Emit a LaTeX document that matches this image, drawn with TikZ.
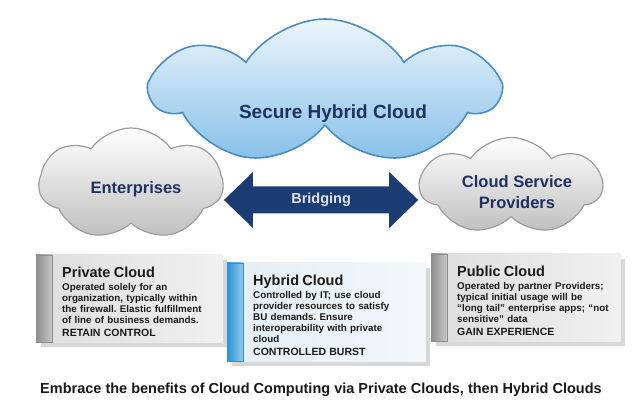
\documentclass[tikz,border=0pt]{standalone}
\usepackage{fontspec}
\setmainfont{Liberation Sans}
\frenchspacing
\usetikzlibrary{shapes.symbols,arrows.meta,backgrounds,shadows}

\definecolor{skyfill}{HTML}{86C0E9}
\definecolor{skyline}{HTML}{4A8CC8}
\definecolor{navy}{HTML}{1E3162}
\definecolor{bridgeblue}{HTML}{1C3C74}
\definecolor{greyline}{HTML}{9C9C9C}
\definecolor{panelgrey}{HTML}{DEDEDE}
\definecolor{panelblue}{HTML}{E4EEF6}
\definecolor{stripgrey}{HTML}{8E8E8E}
\definecolor{stripblue}{HTML}{2A94D6}
\definecolor{inkdark}{HTML}{1A1A1A}

\tikzset{
  bigcloud/.style={cloud, cloud puffs=7, cloud puff arc=115, cloud ignores aspect, draw=skyline, line width=1.6pt,
    top color=white!85!skyfill, bottom color=skyfill},
  sidecloud/.style={cloud, cloud puffs=7, cloud puff arc=110, cloud ignores aspect, draw=greyline, line width=1.2pt,
    top color=white, bottom color=black!25},
  cloudlabel/.style={font=\bfseries\fontsize{16.5}{21}\selectfont, text=navy, align=center},
  bridge/.style={draw=bridgeblue, line width=27pt,
    {Triangle[length=29pt,width=56pt,line width=0pt]}-{Triangle[length=29pt,width=56pt,line width=0pt]}},
  infotext/.style={anchor=north west, inner xsep=6pt, inner ysep=5pt, align=left, text=inkdark,
    font=\bfseries\fontsize{9.8}{11}\selectfont},
}
\newcommand\boxhead[1]{{\fontsize{14.5}{11}\selectfont\rule{0pt}{17pt}#1}\\[2pt]}
\newcommand\boxtag[1]{\\[2.5pt]{\fontsize{10.5}{11}\selectfont #1}}

\begin{document}
\begin{tikzpicture}[x=1pt,y=-1pt]
\useasboundingbox (0,0) rectangle (643,403);

% side clouds first, the big one sits over them
\node[sidecloud, minimum width=184pt, minimum height=112pt] (ent) at (131,184) {};
\node[sidecloud, minimum width=182pt, minimum height=97pt] (csp) at (511,186) {};
\node[bigcloud, minimum width=344pt, minimum height=146pt] (shc) at (325,92) {};

\node[cloudlabel, font=\bfseries\fontsize{19}{22}\selectfont] (shc-text) at (333,114) {Secure Hybrid Cloud};
\node[cloudlabel] (ent-text) at (136,189) {Enterprises};
\node[cloudlabel] (csp-text) at (517,192) {Cloud Service\\Providers};

\draw[bridge] ([yshift=-16pt]ent.east) -- ([yshift=-14pt]csp.west)
  node[midway, font=\bfseries\fontsize{14.5}{17}\selectfont, text=white!85!bridgeblue] (bridging) {Bridging};

% the three panels
\node[infotext, text width=154pt] (priv) at (56,255) {\boxhead{Private Cloud}Operated solely for an\\organization, typically within\\the firewall. Elastic fulfillment\\of line of business demands.\boxtag{RETAIN CONTROL}};
\node[infotext, text width=166pt] (hyb) at (247,263) {\boxhead{Hybrid Cloud}Controlled by IT; use cloud\\provider resources to satisfy\\BU demands. Ensure\\interoperability with private\\cloud\boxtag{CONTROLLED BURST}};
\node[infotext, text width=157pt] (pub) at (451,254) {\boxhead{Public Cloud}Operated by partner Providers;\\typical initial usage will be\\``long tail'' enterprise apps; ``not\\sensitive'' data\boxtag{GAIN EXPERIENCE}};

\begin{scope}[on background layer]
\fill[white] (0,0) rectangle (643,403);
\foreach \info/\panel/\strip in {priv/panelgrey/stripgrey, hyb/panelblue/stripblue, pub/panelgrey/stripgrey}{
  \path[left color=\panel, right color=\panel!45!white,
    drop shadow={shadow xshift=5pt, shadow yshift=-5pt, opacity=.3}]
    ([xshift=-20pt]\info.north west) rectangle (\info.south east);
  \path[left color=\strip, right color=\strip!50!white, draw=\strip]
    ([xshift=-20pt]\info.north west) rectangle ([xshift=-4pt]\info.south west);
}
\end{scope}

\node[font=\bfseries\fontsize{14.5}{17}\selectfont, text=inkdark] (caption) at (321,390)
  {Embrace the benefits of Cloud Computing via Private Clouds, then Hybrid Clouds};
\end{tikzpicture}
\end{document}
